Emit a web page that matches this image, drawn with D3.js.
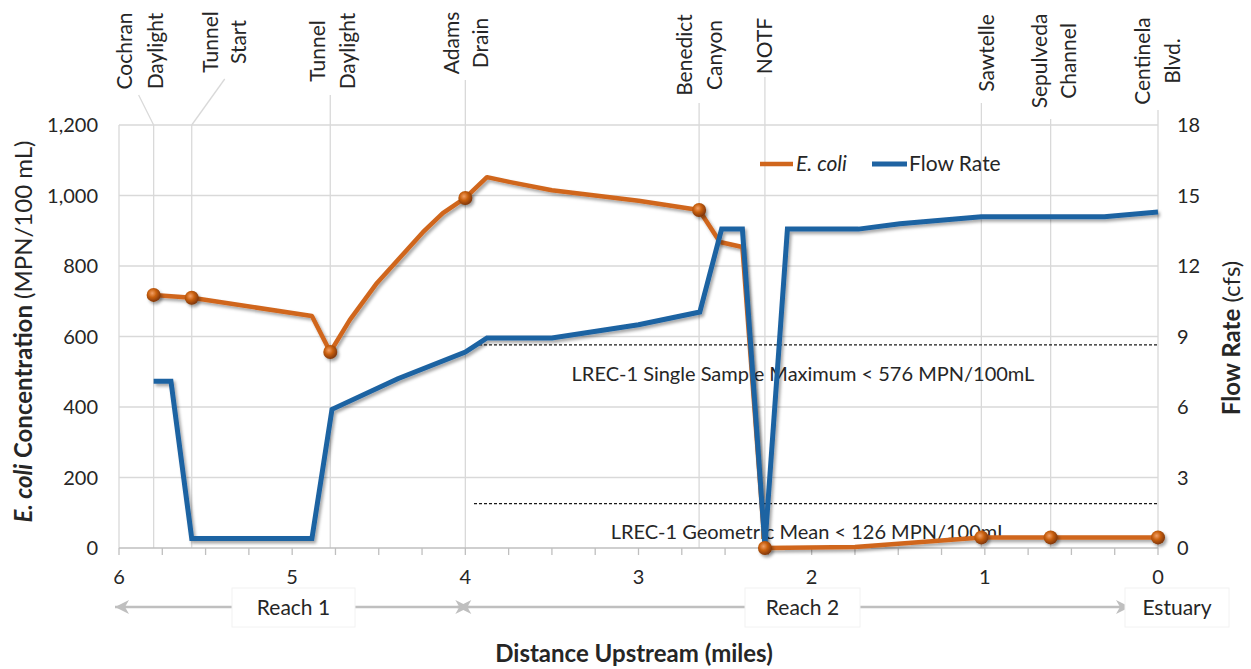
<!DOCTYPE html>
<html><head><meta charset="utf-8">
<script src="https://cdn.jsdelivr.net/npm/d3@7"></script>
<style>
body{margin:0;background:#fff}
svg{display:block;font-family:Lato,'Open Sans',sans-serif}
</style>
</head><body>
<svg id="c" width="1251" height="669"></svg>
<script>
// ---------------- data ----------------
const siteNames = [["Cochran","Daylight"],["Tunnel","Start"],["Tunnel","Daylight"],["Adams","Drain"],["Benedict","Canyon"],["NOTF"],["Sawtelle"],["Sepulveda","Channel"],["Centinela","Blvd."]];
const siteMiles = [5.80, 5.58, 4.78, 4.00, 2.65, 2.27, 1.02, 0.62, 0.00];
const siteEcoli = [718, 710, 556, 993, 959, 0, 30, 30, 30];

const ecoliMiles  = [5.80, 5.58, 4.886, 4.78, 4.667, 4.51, 4.39, 4.245, 4.13, 4.00, 3.875, 3.74, 3.50, 3.00, 2.65, 2.53, 2.40, 2.27, 1.75, 1.02, 0.62, 0.00];
const ecoliValues = [718,  710,  658,   556,  647,   752,  817,  896,   950,  993,  1052,  1038, 1015, 985,  959,  868,  854,  0,    3,    30,   30,   30];

const flowMiles  = [5.80, 5.70, 5.58, 4.886, 4.77, 4.39, 4.00, 3.875, 3.50, 3.00, 2.646, 2.52, 2.40, 2.27, 2.14, 1.73, 1.49, 1.02, 0.31, 0.00];
const flowValues = [7.1,  7.1,  0.4,  0.4,   5.9,  7.2,  8.34, 8.94,  8.94, 9.5,  10.04, 13.57, 13.57, 0.1, 13.57, 13.57, 13.8, 14.1, 14.1, 14.3];

const leftTicks  = [0, 200, 400, 600, 800, 1000, 1200];
const rightTicks = [0, 3, 6, 9, 12, 15, 18];
const xTicks     = [6, 5, 4, 3, 2, 1, 0];

const thresholdValues = [576, 126];
const thresholdLabels = ["LREC-1 Single Sample Maximum < 576 MPN/100mL", "LREC-1 Geometric Mean < 126 MPN/100mL"];
const thresholdStart  = 3.95;

const reachNames  = ["Reach 1", "Reach 2", "Estuary"];
const reachStarts = [6, 4];
const reachEnds   = [4, 0];

const seriesNames = ["E. coli", "Flow Rate"];

// ---------------- layout ----------------
const L = 119, R = 1158, T = 125, B = 548;
const ORANGE = "#d0661d", BLUE = "#1f63a2", GRID = "#d9d9d9", TXT = "#262626";
const FS = 20, TFS = 24;

const x = d3.scaleLinear().domain([6, 0]).range([L, R]);
const yL = d3.scaleLinear().domain([0, 1200]).range([B, T]);
const yR = d3.scaleLinear().domain([0, 18]).range([B, T]);

// label placement per site: line x offsets, block centre y, leader top (dx, y)
const labelLayout = [
  {dx:[-29, 2],  cy:51, lead:[-15, 95]},
  {dx:[19, 47],  cy:42, lead:[33, 79]},
  {dx:[-13, 17], cy:51, lead:[0, 95]},
  {dx:[-14, 15], cy:43, lead:[0, 80]},
  {dx:[-14, 16], cy:55, lead:[0, 103]},
  {dx:[0],       cy:46, lead:[0, 77]},
  {dx:[5],       cy:53, lead:[0, 103]},
  {dx:[-11, 18], cy:61, lead:[0, 119]},
  {dx:[-15, 15], cy:61, lead:[0, 110]}
];

const svg = d3.select("#c");
const defs = svg.append("defs");
const sh = defs.append("filter").attr("id","shadow").attr("x","-10%").attr("y","-10%").attr("width","130%").attr("height","130%");
sh.append("feDropShadow").attr("dx",2).attr("dy",2.5).attr("stdDeviation",1.8).attr("flood-color","#000").attr("flood-opacity",0.35);
const rg = defs.append("radialGradient").attr("id","ball").attr("cx","40%").attr("cy","38%").attr("r","65%");
rg.append("stop").attr("offset","0%").attr("stop-color","#f2a066");
rg.append("stop").attr("offset","45%").attr("stop-color","#c9600f");
rg.append("stop").attr("offset","100%").attr("stop-color","#7a3306");
const mk = (id, dir) => {
  const m = defs.append("marker").attr("id",id).attr("viewBox","0 0 16 16").attr("refX", dir>0?15:1).attr("refY",8)
    .attr("markerWidth",16).attr("markerHeight",16).attr("markerUnits","userSpaceOnUse").attr("orient","0");
  m.append("path").attr("d", dir>0 ? "M1,1 L15,8 L1,15 L5,8 Z" : "M15,1 L1,8 L15,15 L11,8 Z").attr("fill","#bfbfbf");
};
mk("arrR", 1); mk("arrL", -1);

// horizontal gridlines
svg.append("g").selectAll("line").data(leftTicks.filter(d=>d>0)).join("line")
  .attr("x1",L).attr("x2",R).attr("y1",d=>yL(d)).attr("y2",d=>yL(d))
  .attr("stroke",GRID).attr("stroke-width",1.3);
// left border
svg.append("line").attr("x1",L).attr("x2",L).attr("y1",T).attr("y2",B).attr("stroke",GRID).attr("stroke-width",1.3);
// site gridlines + leaders + labels
siteMiles.forEach((m,i)=>{
  const sx = x(m), lay = labelLayout[i];
  svg.append("line").attr("x1",sx).attr("x2",sx).attr("y1",T).attr("y2",B).attr("stroke",GRID).attr("stroke-width",1.3);
  svg.append("line").attr("x1",sx).attr("y1",T).attr("x2",sx+lay.lead[0]).attr("y2",lay.lead[1]).attr("stroke",GRID).attr("stroke-width",1.3);
  siteNames[i].forEach((t,j)=>{
    svg.append("text").attr("transform",`translate(${sx+lay.dx[j]},${lay.cy}) rotate(-90)`)
      .attr("text-anchor","middle").attr("dy","0.35em").attr("font-size",21).attr("fill",TXT).text(t);
  });
});

// bottom axis
svg.append("line").attr("x1",L).attr("x2",R).attr("y1",B).attr("y2",B).attr("stroke","#bfbfbf").attr("stroke-width",1.3);
svg.append("g").selectAll("line").data(d3.range(0,24.01,1).map(k=>6-k*0.25)).join("line")
  .attr("x1",d=>x(d)).attr("x2",d=>x(d)).attr("y1",B).attr("y2",B+7).attr("stroke","#bfbfbf").attr("stroke-width",1.3);
svg.append("g").selectAll("text").data(xTicks).join("text")
  .attr("x",d=>x(d)).attr("y",577).attr("dy","0.35em").attr("text-anchor","middle")
  .attr("font-size",FS).attr("fill",TXT).text(d=>d);

// left axis labels
svg.append("g").selectAll("text").data(leftTicks).join("text")
  .attr("x",98).attr("y",d=>yL(d)).attr("dy","0.35em").attr("text-anchor","end")
  .attr("font-size",FS).attr("fill",TXT).text(d=>d3.format(",")(d));
// right axis labels
svg.append("g").selectAll("text").data(rightTicks).join("text")
  .attr("x",1177).attr("y",d=>yR(d)).attr("dy","0.35em").attr("text-anchor","start")
  .attr("font-size",FS).attr("fill",TXT).text(d=>d);

// axis titles
const lt = svg.append("text").attr("transform",`translate(24,${(T+B)/2 - 5}) rotate(-90)`).attr("text-anchor","middle")
  .attr("dy","0.35em").attr("font-size",TFS).attr("fill",TXT);
lt.append("tspan").attr("font-weight","bold").attr("font-style","italic").text("E. coli");
lt.append("tspan").attr("font-weight","bold").text(" Concentration");
lt.append("tspan").text(" (MPN/100 mL)");
const rt = svg.append("text").attr("transform",`translate(1232,338) rotate(-90)`).attr("text-anchor","middle")
  .attr("dy","0.35em").attr("font-size",TFS).attr("fill",TXT);
rt.append("tspan").attr("font-weight","bold").text("Flow Rate");
rt.append("tspan").text(" (cfs)");
svg.append("text").attr("x",634).attr("y",654).attr("dy","0.35em").attr("text-anchor","middle")
  .attr("font-size",TFS).attr("font-weight","bold").attr("fill",TXT).text("Distance Upstream (miles)");

// thresholds
thresholdValues.forEach((v,i)=>{
  svg.append("line").attr("x1",x(thresholdStart)).attr("x2",R).attr("y1",yL(v)).attr("y2",yL(v))
    .attr("stroke","#1a1a1a").attr("stroke-width",1.2).attr("stroke-dasharray","3,2");
  svg.append("text").attr("x",(x(thresholdStart)+R)/2 + (i===0?-13:-7)).attr("y",yL(v)+ (i===0?29:28)).attr("dy","0.35em")
    .attr("text-anchor","middle").attr("font-size",FS).attr("fill",TXT).text(thresholdLabels[i]);
});

// series lines
const line = (xs, ys, yS) => d3.line().x((d,i)=>x(xs[i])).y((d,i)=>yS(ys[i]))(xs);
svg.append("path").attr("d",line(ecoliMiles, ecoliValues, yL)).attr("fill","none").attr("stroke",ORANGE)
  .attr("stroke-width",4.5).attr("stroke-linejoin","round").attr("filter","url(#shadow)");
svg.append("path").attr("d",line(flowMiles, flowValues, yR)).attr("fill","none").attr("stroke",BLUE)
  .attr("stroke-width",5).attr("stroke-linejoin","miter").attr("filter","url(#shadow)");
// markers
svg.append("g").attr("filter","url(#shadow)").selectAll("circle").data(siteMiles).join("circle")
  .attr("cx",d=>x(d)).attr("cy",(d,i)=>yL(siteEcoli[i])).attr("r",7).attr("fill","url(#ball)");

// legend
const lg = svg.append("g");
lg.append("line").attr("x1",760).attr("x2",793).attr("y1",164).attr("y2",164).attr("stroke",ORANGE).attr("stroke-width",4.5);
lg.append("text").attr("x",796).attr("y",164).attr("dy","0.35em").attr("font-size",21).attr("font-style","italic").attr("fill",TXT).text(seriesNames[0]);
lg.append("line").attr("x1",872).attr("x2",907).attr("y1",164).attr("y2",164).attr("stroke",BLUE).attr("stroke-width",5);
lg.append("text").attr("x",909).attr("y",164).attr("dy","0.35em").attr("font-size",21).attr("fill",TXT).text(seriesNames[1]);

// reach arrows
const RY = 607;
svg.append("line").attr("x1",x(reachStarts[0])-4).attr("x2",x(reachEnds[0])+4).attr("y1",RY).attr("y2",RY)
  .attr("stroke","#bfbfbf").attr("stroke-width",2.5).attr("marker-start","url(#arrL)").attr("marker-end","url(#arrR)");
svg.append("line").attr("x1",x(reachStarts[1])-8).attr("x2",1130).attr("y1",RY).attr("y2",RY)
  .attr("stroke","#bfbfbf").attr("stroke-width",2.5).attr("marker-start","url(#arrL)").attr("marker-end","url(#arrR)");
const boxes = [[232,355],[745,860],[1125,1229]];
reachNames.forEach((t,i)=>{
  const b = boxes[i];
  svg.append("rect").attr("x",b[0]).attr("y",588).attr("width",b[1]-b[0]).attr("height",39)
    .attr("fill","#fff").attr("stroke","#f2f2f2").attr("stroke-width",1);
  svg.append("text").attr("x",(b[0]+b[1])/2).attr("y",RY+1).attr("dy","0.35em").attr("text-anchor","middle")
    .attr("font-size",21).attr("fill",TXT).text(t);
});
</script>
</body></html>
